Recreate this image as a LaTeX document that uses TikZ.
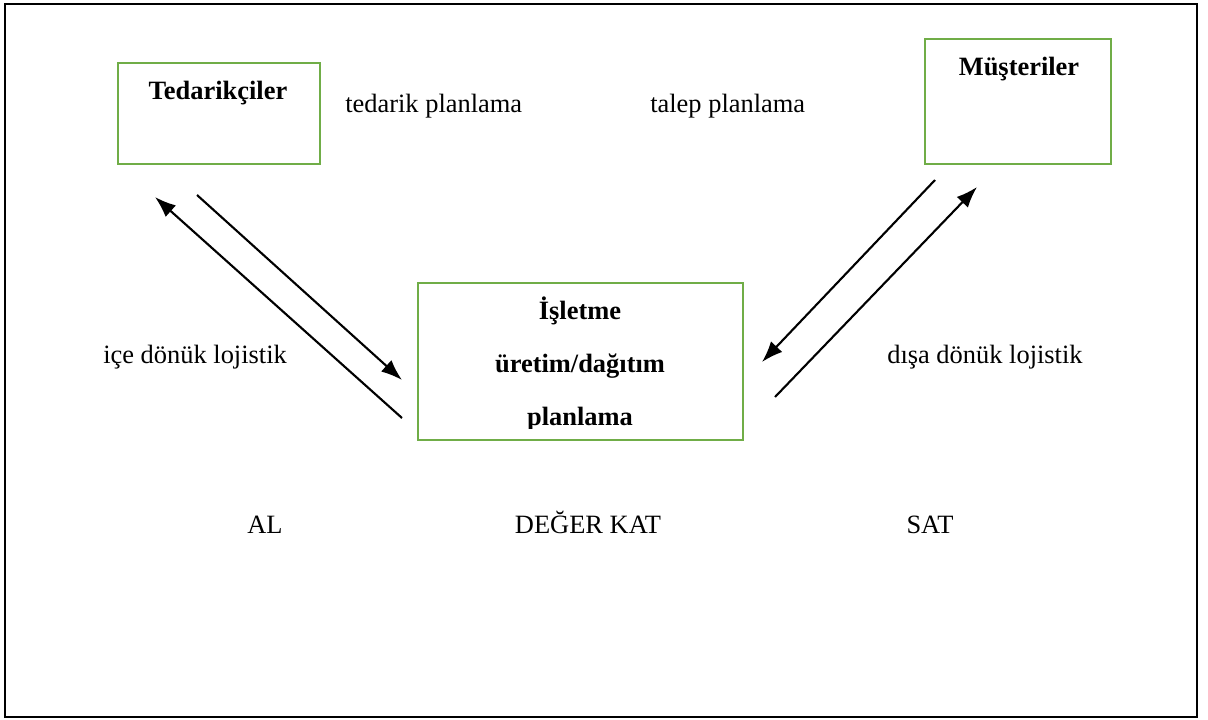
\documentclass[tikz,border=0pt]{standalone}
\usepackage{fontspec}
\setmainfont{Liberation Serif}
\usetikzlibrary{calc}
\usetikzlibrary{arrows.meta}
\definecolor{boxgreen}{RGB}{112,173,71}

\begin{document}
\begin{tikzpicture} [x=0.025cm,y=-0.025cm,
  gbox/.style={draw=boxgreen, line width=1.7pt, inner sep=0pt, outer sep=0pt},
  txt/.style={inner sep=0pt, font=\fontsize{18.8}{22}\selectfont},
  btxt/.style={txt, font=\fontsize{18.8}{22}\selectfont\bfseries},
  flow/.style={line width=1.5pt, -{Latex[length=15pt,width=11pt]}}]
\useasboundingbox (0,0) rectangle (1208,719);
\draw[line width=1.8pt] (5,4) rectangle (1197,717);

\node[gbox, minimum width=5.05cm, minimum height=2.525cm] (ted) at (219,113.5) {};
\node[gbox, minimum width=4.65cm, minimum height=3.125cm] (mus) at (1018,101.5) {};
\node[gbox, minimum width=8.125cm, minimum height=3.925cm] (isl) at (580.5,361.5) {};

\node[btxt, anchor=base] (tedtxt) at (218,99) {Tedarikçiler};
\node[btxt, anchor=base] (mustxt) at (1019,75) {Müşteriler};
\begin{scope}
\clip (418,283) rectangle (743,428);
\node[btxt, anchor=base] (isl1) at (580,319) {İşletme};
\node[btxt, anchor=base] (isl2) at (580,372) {üretim/dağıtım};
\node[btxt, anchor=base] (isl3) at (580,425) {planlama};
\end{scope}

\node[txt, anchor=base west] (tedpl) at (345,112) {tedarik planlama};
\node[txt, anchor=base west] (talpl) at (650,112) {talep planlama};
\node[txt, anchor=base west] (icl) at (103,363) {içe dönük lojistik};
\node[txt, anchor=base west] (disl) at (887,363) {dışa dönük lojistik};
\node[txt, anchor=base] (al) at (265,533) {AL};
\node[txt, anchor=base] (dk) at (588,533) {DEĞER KAT};
\node[txt, anchor=base] (sat) at (930,533) {SAT};

\coordinate (a1) at (197,195); \coordinate (a2) at (402,380);
\coordinate (b1) at (402,418); \coordinate (b2) at (155,197);
\coordinate (c1) at (935,180); \coordinate (c2) at (762,362);
\coordinate (d1) at (775,397); \coordinate (d2) at (977,187);
\draw[flow] (a1) -- (a2);
\draw[flow] (b1) -- (b2);
\draw[flow] (c1) -- (c2);
\draw[flow] (d1) -- (d2);
\end{tikzpicture}
\end{document}
